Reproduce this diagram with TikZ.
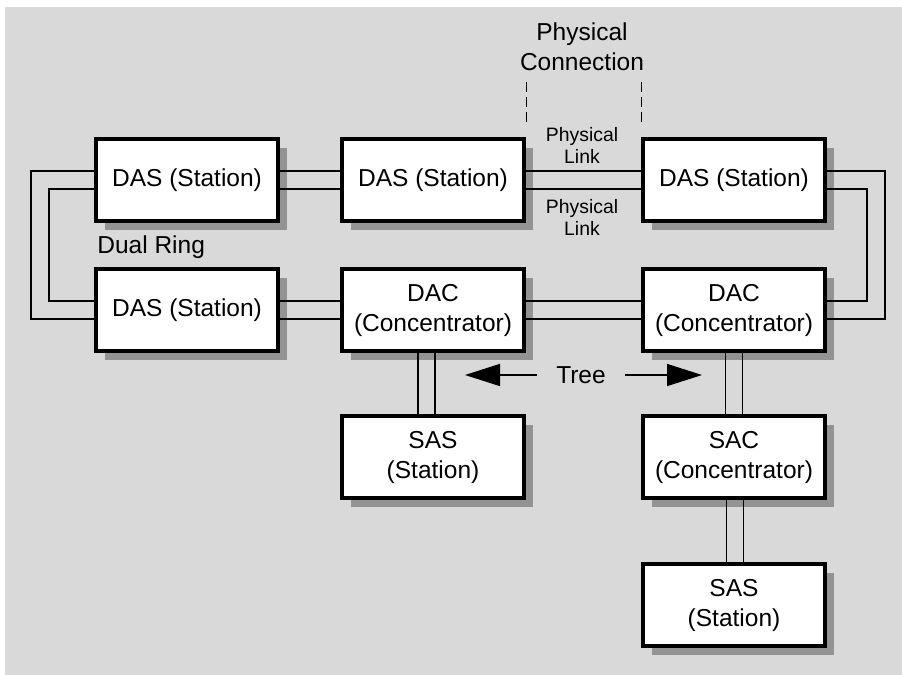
\documentclass[tikz,border=0pt]{standalone}
\usepackage{fontspec}
\setmainfont{Liberation Sans}
\usetikzlibrary{arrows.meta,shadows}
\definecolor{bggray}{HTML}{D9D9D9}
\definecolor{shadegray}{HTML}{939393}

\begin{document}
\begin{tikzpicture}[x=0.5pt, y=-0.5pt,
    box/.style={draw, line width=2pt, fill=white, minimum width=91pt, minimum height=41pt,
        align=center, inner sep=0pt, font=\fontsize{12.25}{15}\selectfont,
        drop shadow={shadow xshift=4.5pt, shadow yshift=-4.5pt, fill=shadegray, opacity=1}},
    ring/.style={line width=0.75pt},
    lbl/.style={align=center, inner sep=0pt, font=\fontsize{12.25}{15}\selectfont},
    small/.style={align=center, inner sep=0pt, font=\fontsize{9.7}{11}\selectfont},
    treearrow/.style={line width=0.75pt, -{Triangle[length=17.5pt, width=11pt]}}]
    \useasboundingbox (0,0) rectangle (902,675);
    \fill[bggray] (5,7) rectangle (902,675);

    % stations and concentrators
    \node[box] (das1) at (187,180) {DAS (Station)};
    \node[box] (das2) at (433,180) {DAS (Station)};
    \node[box] (das3) at (734,180) {DAS (Station)};
    \node[box] (das4) at (187,310) {DAS (Station)};
    \node[box] (dac1) at (433,310) {DAC\\(Concentrator)};
    \node[box] (dac2) at (734,310) {DAC\\(Concentrator)};
    \node[box] (sas1) at (433,457) {SAS\\(Station)};
    \node[box] (sac)  at (734,457) {SAC\\(Concentrator)};
    \node[box] (sas2) at (734,605) {SAS\\(Station)};

    % dual ring
    \foreach \a/\b in {das1/das2, das2/das3, das4/dac1, dac1/dac2} {
        \draw[ring] ([yshift=4.5pt]\a.east) -- ([yshift=4.5pt]\b.west);
        \draw[ring] ([yshift=-4.5pt]\a.east) -- ([yshift=-4.5pt]\b.west);
    }
    \draw[ring] ([yshift=4.5pt]das1.west) -- ++(-31.5pt,0) |- ([yshift=-4.5pt]das4.west);
    \draw[ring] ([yshift=-4.5pt]das1.west) -- ++(-22.5pt,0) |- ([yshift=4.5pt]das4.west);
    \draw[ring] ([yshift=4.5pt]das3.east) -- ++(29pt,0) |- ([yshift=-4.5pt]dac2.east);
    \draw[ring] ([yshift=-4.5pt]das3.east) -- ++(20pt,0) |- ([yshift=4.5pt]dac2.east);

    % tree
    \draw[ring] ([xshift=-7.5pt]dac1.south) -- ([xshift=-7.5pt]sas1.north);
    \draw[ring] ([xshift=1pt]dac1.south) -- ([xshift=1pt]sas1.north);
    \draw[ring] ([xshift=-4.25pt]dac2.south) -- ([xshift=-4.25pt]sac.north);
    \draw[ring] ([xshift=4.25pt]dac2.south) -- ([xshift=4.25pt]sac.north);
    \draw[ring] ([xshift=-3.75pt]sac.south) -- ([xshift=-3.75pt]sas2.north);
    \draw[ring] ([xshift=4.75pt]sac.south) -- ([xshift=4.75pt]sas2.north);

    \node[lbl, inner xsep=9.5pt] (tree) at (581,375) {Tree};
    \coordinate (treeL) at (465,375);
    \coordinate (treeR) at (702,375);
    \draw[treearrow] (tree.west) -- (treeL);
    \draw[treearrow] (tree.east) -- (treeR);

    % labels
    \node[lbl, anchor=west] (dualring) at (97,247) {Dual Ring};
    \node[small] (link1) at (582,145) {Physical\\Link};
    \node[small] (link2) at (582,217) {Physical\\Link};
    \node[lbl] (physconn) at (582,47) {Physical\\Connection};
    \draw[line width=0.5pt, dash pattern=on 5pt off 2.5pt] ([yshift=7.5pt]das2.north east) -- ([yshift=28pt]das2.north east);
    \draw[line width=0.5pt, dash pattern=on 5pt off 2.5pt] ([yshift=7.5pt]das3.north west) -- ([yshift=28pt]das3.north west);
\end{tikzpicture}
\end{document}
